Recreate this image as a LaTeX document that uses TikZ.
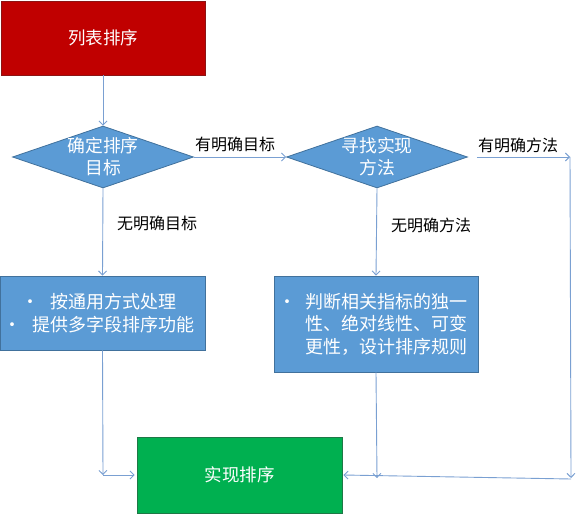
\documentclass[tikz,border=0pt]{standalone}
\usepackage{fontspec}
\setmainfont{Noto Sans CJK SC}
\usetikzlibrary{shapes.geometric,arrows.meta}
\definecolor{redfill}{RGB}{192,0,0}
\definecolor{redline}{RGB}{140,20,20}
\definecolor{bluefill}{RGB}{91,155,213}
\definecolor{blueline}{RGB}{65,113,156}
\definecolor{greenfill}{RGB}{0,176,80}
\definecolor{greenline}{RGB}{30,120,70}
\definecolor{connc}{RGB}{122,160,210}
\newcommand{\bulletmark}[1]{\makebox[#1][l]{\hspace{-7pt}•}}
\tikzset{
  boxbase/.style={rectangle, inner sep=0pt, text=white, line width=0.9pt,
    font=\fontsize{17.5}{22.5}\selectfont, align=center},
  redbox/.style={boxbase, fill=redfill, draw=redline},
  bluebox/.style={boxbase, fill=bluefill, draw=blueline, font=\fontsize{18}{22.5}\selectfont},
  greenbox/.style={boxbase, fill=greenfill, draw=greenline},
  decision/.style={diamond, inner sep=0pt, fill=bluefill, draw=blueline, line width=0.8pt,
    minimum width=181pt, minimum height=62pt},
  dtext/.style={text=white, font=\fontsize{17.8}{22}\selectfont, align=center, inner sep=0pt},
  lbl/.style={font=\fontsize{16}{18}\selectfont, inner sep=0pt},
  conn/.style={draw=connc, line width=0.9pt, -{Straight Barb[length=4pt,width=8pt]}}
}
\begin{document}
\begin{tikzpicture}[x=1pt,y=-1pt]
\useasboundingbox (0,0) rectangle (577,513);
% nodes
\node[redbox, minimum width=204pt, minimum height=74pt] (start) at (103,38) {列表排序};
\node[decision] (d1) at (103,157) {};
\node[dtext] (d1t) at (103,157) {确定排序\\目标};
\node[decision] (d2) at (377,157) {};
\node[dtext] (d2t) at (377,157) {寻找实现\\方法};
\node[bluebox, minimum width=205pt, minimum height=74pt] (lb) at (102.5,313)
  {\bulletmark{22pt}按通用方式处理\\\bulletmark{22pt}提供多字段排序功能};
\node[bluebox, minimum width=204pt, minimum height=96pt] (rb) at (376,324)
  {\bulletmark{20pt}\parbox[t]{162pt}{\raggedright 判断相关指标的独一\\性、绝对线性、可变\\更性，设计排序规则}};
\node[greenbox, minimum width=205pt, minimum height=76pt] (fin) at (239.5,475) {实现排序};
% labels
\node[lbl] (l1) at (235,144) {有明确目标};
\node[lbl] (l2) at (518,145) {有明确方法};
\node[lbl] (l3) at (157,223) {无明确目标};
\node[lbl] (l4) at (431,225) {无明确方法};
% coordinates
\coordinate (cr) at (570,157);
\coordinate (crb) at (571,478);
\coordinate (crs) at (571,479);
\coordinate (cm) at (377,478);
\coordinate (cl) at (103,475);
% connectors
\draw[conn] (start.south) -- (d1.north);
\draw[conn] (d1.east) -- (d2.west);
\draw[conn] ([xshift=9pt]d2.east) -- (cr);
\draw[conn] (cr) -- (crb);
\draw[conn] (crs) -- ([xshift=1pt]fin.east);
\draw[conn] (d1.south) -- (lb.north);
\draw[conn] (d2.south) -- (rb.north);
\draw[conn] (lb.south) -- (cl);
\draw[conn] (cl) -- ([xshift=-2pt]fin.west);
\draw[conn] (rb.south) -- (cm);
\end{tikzpicture}
\end{document}
